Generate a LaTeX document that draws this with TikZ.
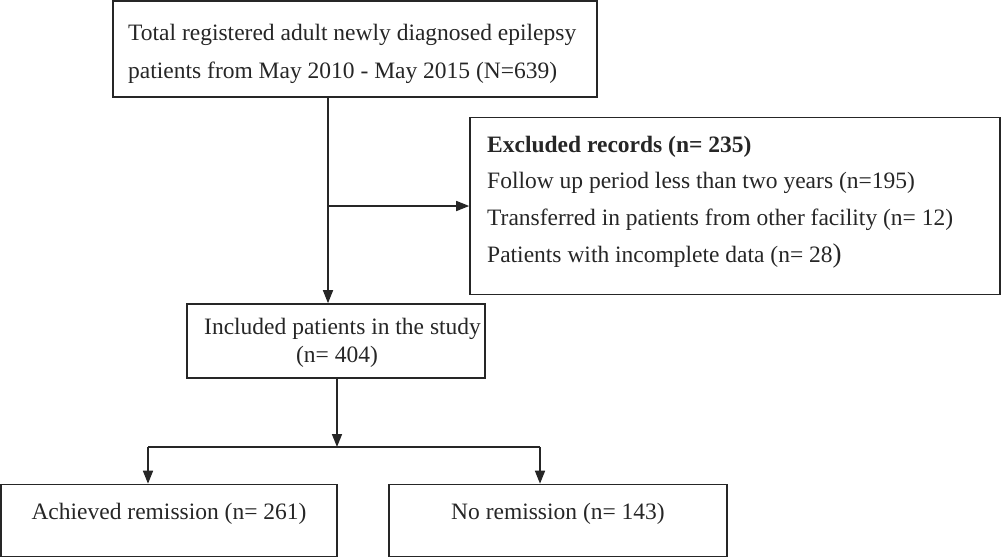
\documentclass[tikz,border=0pt]{standalone}
\usepackage{fontspec}
\setmainfont{Liberation Serif}
\usetikzlibrary{arrows.meta}
\begin{document}
\begin{tikzpicture}[x=1pt,y=-1pt,
  box/.style={draw=black!85, line width=1.6pt, rectangle, inner sep=0pt},
  txt/.style={inner sep=0pt, font=\fontsize{23.5}{28}\selectfont, text=black!85},
  arr/.style={draw=black!85, line width=1.6pt, -{Triangle[length=13pt,width=10pt]}},
  ln/.style={draw=black!85, line width=1.6pt}]
\useasboundingbox (0,0) rectangle (1002,558);
% boxes
\node[box, minimum width=484pt, minimum height=96pt] (top) at (355,49) {};
\node[box, minimum width=530pt, minimum height=177pt] (exc) at (735,206) {};
\node[box, minimum width=298pt, minimum height=74pt] (inc) at (336,341) {};
\node[box, minimum width=336pt, minimum height=72pt] (ach) at (169,520.5) {};
\node[box, minimum width=338pt, minimum height=72pt] (nor) at (558,520.5) {};
% texts
\node[txt, anchor=base west] (t1) at (128,40) {Total registered adult newly diagnosed epilepsy};
\node[txt, anchor=base west] (t2) at (128,78) {patients from May 2010 - May 2015 (N=639)};
\node[txt, anchor=base west, font=\fontsize{23.5}{28}\selectfont\bfseries] (e1) at (487,152) {Excluded records (n= 235)};
\node[txt, anchor=base west] (e2) at (487,188) {Follow up period less than two years (n=195)};
\node[txt, anchor=base west] (e3) at (487,225) {Transferred in patients from other facility (n= 12)};
\node[txt, anchor=base west] (e4) at (487,262) {Patients with incomplete data (n= 28{\fontsize{27}{28}\selectfont)}};
\node[txt, anchor=base west] (i1) at (204,334) {Included patients in the study};
\node[txt, anchor=base] (i2) at (337,362) {(n= 404)};
\node[txt, anchor=base] (a1) at (169,519) {Achieved remission (n= 261)};
\node[txt, anchor=base] (n1) at (558,519) {No remission (n= 143)};
% connectors
\coordinate (s1) at (328,206);
\coordinate (s2) at (337,447);
\coordinate (bl) at (148,447);
\coordinate (br) at (540,447);
\draw[arr] (s1 |- top.south) -- (s1 |- inc.north);
\draw[arr] (s1) -- (s1 -| exc.west);
\draw[arr] (s2 |- inc.south) -- (s2);
\draw[ln] (bl) -- (br);
\draw[arr] (bl) -- (bl |- ach.north);
\draw[arr] (br) -- (br |- nor.north);
\end{tikzpicture}
\end{document}
